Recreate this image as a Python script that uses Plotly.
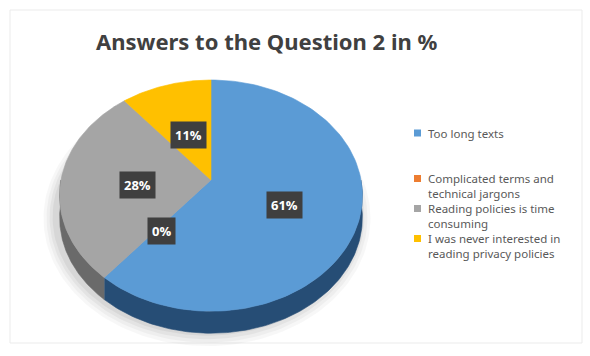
import numpy as np
import plotly.graph_objects as go

# ---- data ----
title = "Answers to the Question 2 in %"
categories = ["Too long texts",
              "Complicated terms and<br>technical jargons",
              "Reading policies is time<br>consuming",
              "I was never interested in<br>reading privacy policies"]
values = [61, 0, 28, 11]
colors = ["#5B9BD5", "#ED7D31", "#A5A5A5", "#FFC000"]
side_colors = ["#264D75", "#A14E1C", "#6A6A6A", "#B88A00"]

# ---- layout geometry (pixels) ----
W, H = 590, 356
CX, CY = 211, 180      # projected centre of the pie
A, B, K = 150, 113.5, 0.135   # horizontal radius, vertical radius, perspective
DEPTH = 22


def proj(theta_deg, r=1.0):
    t = np.radians(theta_deg)
    X = r * np.sin(t)
    Y = r * np.cos(t)
    d = 1 + K * Y
    return CX + A * X / d, CY - B * Y / d


fig = go.Figure()

# soft shadow under the pie
for grow, op in [(12, 0.03), (9, 0.035), (6, 0.045), (3, 0.05)]:
    th = np.linspace(0, 360, 200)
    xs, ys = proj(th)
    xs = CX - 4 + (xs - CX) * (1 + grow / A)
    ys = CY + 10 + (ys - CY) * (1 + grow / B) + DEPTH * 0.5
    fig.add_trace(go.Scatter(x=xs, y=ys, fill="toself", mode="lines",
                             line=dict(width=0), fillcolor=f"rgba(0,0,0,{op})",
                             hoverinfo="skip", showlegend=False))

total = sum(values)
cum = np.cumsum([0] + values) / total * 360.0

# side (front rim) of the slices: visible between 90 and 270 degrees
for i, v in enumerate(values):
    a0, a1 = cum[i], cum[i + 1]
    lo, hi = max(a0, 90), min(a1, 270)
    if v == 0 or hi <= lo:
        continue
    th = np.linspace(lo, hi, 120)
    xt, yt = proj(th)
    xs = np.concatenate([xt, xt[::-1]])
    ys = np.concatenate([yt, yt[::-1] + DEPTH])
    fig.add_trace(go.Scatter(x=xs, y=ys, fill="toself", mode="lines",
                             line=dict(width=0.6, color=side_colors[i]), fillcolor=side_colors[i],
                             hoverinfo="skip", showlegend=False))

# top face slices
for i, v in enumerate(values):
    if v == 0:
        continue
    th = np.linspace(cum[i], cum[i + 1], 120)
    xt, yt = proj(th)
    xs = np.concatenate([[CX], xt, [CX]])
    ys = np.concatenate([[CY], yt, [CY]])
    fig.add_trace(go.Scatter(x=xs, y=ys, fill="toself", mode="lines",
                             line=dict(width=0.6, color=colors[i]), fillcolor=colors[i],
                             hoverinfo="skip", showlegend=False))

# data labels
for i, v in enumerate(values):
    mid = (cum[i] + cum[i + 1]) / 2
    lx, ly = proj(mid, 0.5)
    fig.add_annotation(x=lx + 1, y=ly + 5, text=f"<b>{v}%</b>", showarrow=False,
                       font=dict(family="Open Sans", size=13, color="white"),
                       bgcolor="#3F3F3F", borderpad=4, xanchor="center", yanchor="middle")

# legend (drawn as text items beside square markers)
leg_y = [133, 186, 216, 246]
for i, lab in enumerate(categories):
    nl = lab.count("<br>")
    top = leg_y[i] - nl * 7.5
    fig.add_shape(type="rect", x0=414, x1=421, y0=top - 3.5, y1=top + 3.5,
                  fillcolor=colors[i], line=dict(width=0), layer="above")
    fig.add_annotation(x=427, y=leg_y[i], text=lab, showarrow=False, align="left",
                       xanchor="left", yanchor="middle", borderpad=0,
                       font=dict(family="Noto Sans", size=11.5, color="#595959"))

# faint chart border
fig.add_shape(type="rect", x0=10, x1=582, y0=10, y1=343,
              line=dict(color="#EBEBEB", width=1), layer="below")

fig.update_layout(
    width=W, height=H,
    margin=dict(l=0, r=0, t=0, b=0),
    paper_bgcolor="white", plot_bgcolor="white",
    title=dict(text=f"<b>{title}</b>", x=0.452, xanchor="center", y=0.88, yanchor="middle",
               font=dict(family="Noto Sans", size=22, color="#404040")),
    xaxis=dict(range=[0, W], visible=False, fixedrange=True),
    yaxis=dict(range=[H, 0], visible=False, fixedrange=True),
    showlegend=False,
)

fig.write_html("out.html")
